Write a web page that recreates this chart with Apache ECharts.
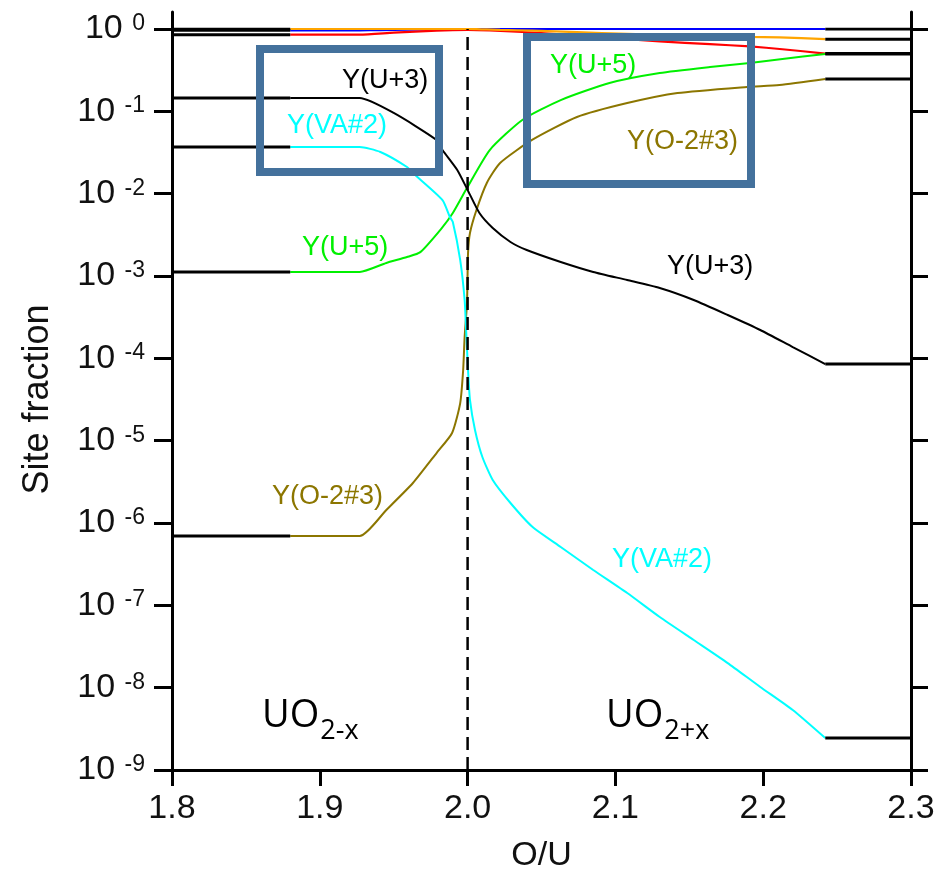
<!DOCTYPE html>
<html>
<head>
<meta charset="utf-8">
<title>Site fraction - O/U</title>
<script src="https://cdn.jsdelivr.net/npm/echarts@6.0.0/dist/echarts.min.js"></script>
<style>
html, body { margin: 0; padding: 0; background: #fff; }
#main { width: 949px; height: 879px; }
</style>
</head>
<body>
<div id="main"></div>
<script>
//两相区（左侧 UO2-x 边界外）水平线
var leftPhaseX = [1.8, 1.88];
var leftPhaseValues = [1.0, 0.963, 0.854, 0.145, 0.0369, 1.12e-3, 6.95e-7];
//两相区（右侧 UO2+x 边界外）水平线
var rightPhaseX = [2.242, 2.3];
var rightPhaseValues = [1.0, 0.753, 0.503, 0.497, 0.247, 8.53e-5, 2.44e-9];

//Y(U+3)
var u3X = [1.88, 1.927, 1.950, 1.979, 1.983, 1.993, 2.000, 2.008, 2.017, 2.029, 2.040, 2.063, 2.085, 2.108, 2.130, 2.153, 2.176, 2.198, 2.220, 2.242];
var u3Y = [0.145, 0.145, 0.0955, 0.0449, 0.0339, 0.0194, 0.0111, 5.82e-3, 3.83e-3, 2.59e-3, 2.07e-3, 1.48e-3, 1.12e-3, 8.93e-4, 7.14e-4, 5.11e-4, 3.36e-4, 2.21e-4, 1.37e-4, 8.53e-5];

//Y(VA#2)
var va2X = [1.88, 1.927, 1.941, 1.959, 1.963, 1.983, 1.988, 1.990, 1.995, 1.998, 1.999, 2.0003, 2.0016, 2.005, 2.010, 2.017, 2.029, 2.044, 2.063, 2.085, 2.108, 2.130, 2.153, 2.176, 2.198, 2.220, 2.242];
var va2Y = [0.0369, 0.0369, 0.0321, 0.0211, 0.0178, 8.37e-3, 5.21e-3, 4.53e-3, 1.56e-3, 5.11e-4, 2.21e-4, 7.21e-5, 3.12e-5, 1.35e-5, 6.33e-6, 3.33e-6, 1.75e-6, 8.93e-7, 5.11e-7, 2.69e-7, 1.41e-7, 7.21e-8, 3.79e-8, 1.99e-8, 1.02e-8, 5.35e-9, 2.44e-9];

//Y(U+5)
var u5X = [1.88, 1.927, 1.945, 1.959, 1.968, 1.982, 1.990, 2.000, 2.015, 2.037, 2.063, 2.096, 2.130, 2.164, 2.191, 2.213, 2.242];
var u5Y = [1.12e-3, 1.12e-3, 1.44e-3, 1.70e-3, 1.95e-3, 3.72e-3, 5.82e-3, 0.0121, 0.0339, 0.0785, 0.137, 0.221, 0.292, 0.345, 0.386, 0.432, 0.497];

//Y(O-2#3)
var o3X = [1.88, 1.927, 1.945, 1.963, 1.979, 1.9895, 1.995, 1.997, 1.998, 1.9996, 2.0003, 2.0016, 2.006, 2.013, 2.022, 2.0436, 2.074, 2.108, 2.142, 2.189, 2.211, 2.242];
var o3Y = [6.95e-7, 6.95e-7, 1.44e-6, 3.06e-6, 7.08e-6, 1.24e-5, 2.86e-5, 7.21e-5, 1.82e-4, 4.70e-4, 1.90e-3, 3.33e-3, 6.34e-3, 0.0135, 0.0236, 0.0449, 0.0853, 0.126, 0.167, 0.198, 0.209, 0.247];

//Y(U+4)
var u4X = [1.88, 1.927, 1.950, 1.979, 1.990, 2.000, 2.015, 2.037, 2.063, 2.096, 2.130, 2.164, 2.191, 2.213, 2.242];
var u4Y = [0.854, 0.854, 0.903, 0.953, 0.970, 0.977, 0.962, 0.919, 0.862, 0.778, 0.707, 0.655, 0.614, 0.568, 0.503];

//Y(O-2)
var o2X = [1.88, 1.927, 1.941, 1.959, 1.983, 1.990, 2.000, 2.242];
var o2Y = [0.963, 0.963, 0.968, 0.979, 0.992, 0.995, 1.0, 1.0];

//Y(VA#3)
var va3X = [1.88, 2.000, 2.006, 2.013, 2.022, 2.044, 2.074, 2.108, 2.142, 2.189, 2.211, 2.242];
var va3Y = [1.0, 1.0, 0.994, 0.987, 0.976, 0.955, 0.915, 0.874, 0.833, 0.802, 0.791, 0.753];

//化学计量线 O/U = 2
var stoichX = [2.0, 2.0];
var stoichY = [1e-9, 1.0];

var FONT = '"Liberation Sans", Arial, sans-serif';
var OLIVE = '#8c7600';
var BOX = '#44719c';

var pairs = function(xs, ys) {
	var out = [];
	for(var i = 0; i < xs.length; i++) {
		out.push([xs[i], ys[i]]);
	}
	return out;
};

var curve = function(xs, ys, color, width, z, smooth) {
	return {
		type: 'line',
		data: pairs(xs, ys),
		symbol: 'none',
		silent: true,
		z: z || 3,
		smooth: smooth || false,
		lineStyle: {
			color: color,
			width: width
		}
	};
};

var series = [];
series.push(curve(o2X, o2Y, '#0000ff', 2.2, 3, 0.2));
series.push(curve(u4X, u4Y, '#ff0000', 2.2, 3, 0.2));
series.push(curve(va3X, va3Y, '#ffa500', 2.2, 3, 0.2));
series.push(curve(u5X, u5Y, '#00f000', 2, 3, 0.2));
series.push(curve(o3X, o3Y, OLIVE, 2, 3, 0.2));
series.push(curve(va2X, va2Y, '#00ffff', 2, 3, 0.2));
series.push(curve(u3X, u3Y, '#000000', 2, 3, 0.2));
leftPhaseValues.forEach(function(v) {
	series.push(curve(leftPhaseX, [v, v], '#000000', 3, 4));
});
rightPhaseValues.forEach(function(v) {
	series.push(curve(rightPhaseX, [v, v], '#000000', 3, 4));
});
var dash = curve(stoichX, stoichY, '#000000', 2.5, 5);
dash.lineStyle.type = [13, 7];
series.push(dash);

var label = function(text, x, y, color) {
	return {
		type: 'text',
		z: 110,
		style: {
			text: text,
			x: x,
			y: y,
			fill: color,
			font: '27px ' + FONT,
			align: 'left',
			verticalAlign: 'middle'
		}
	};
};

var phaseLabel = function(main, sub, x, y) {
	return {
		type: 'text',
		z: 110,
		style: {
			text: '{m|' + main + '}{s|' + sub + '}',
			x: x,
			y: y,
			fill: '#000',
			align: 'left',
			verticalAlign: 'middle',
			rich: {
				m: {
					font: '38px "Open Sans", sans-serif',
					fill: '#000'
				},
				s: {
					font: '27px "Open Sans", sans-serif',
					fill: '#000',
					padding: [30, 0, 0, 1]
				}
			}
		}
	};
};

var axisLineStyle = {
	color: '#000',
	width: 3
};

var chart = echarts.init(document.getElementById('main'));
chart.setOption({
	animation: false,
	backgroundColor: '#fff',
	textStyle: {
		fontFamily: FONT
	},
	grid: [{
		left: 172,
		right: 38,
		top: 29,
		bottom: 109
	}, {
		left: 172,
		right: 38,
		top: 12,
		bottom: 109
	}],
	xAxis: [{
		gridIndex: 0,
		type: 'value',
		position: 'bottom',
		min: 1.8,
		max: 2.3,
		interval: 0.1,
		name: 'O/U',
		nameLocation: 'middle',
		nameGap: 69,
		nameTextStyle: {
			fontSize: 34,
			color: '#111',
			fontFamily: FONT
		},
		axisLine: {
			lineStyle: axisLineStyle
		},
		axisTick: {
			inside: false,
			length: 16,
			lineStyle: axisLineStyle
		},
		axisLabel: {
			fontSize: 34,
			color: '#111',
			margin: 22,
			fontFamily: FONT,
			formatter: function(v) {
				return v.toFixed(1);
			}
		},
		splitLine: {
			show: false
		}
	}, {
		gridIndex: 1,
		type: 'value',
		position: 'top',
		min: 1.8,
		max: 2.3,
		interval: 0.1,
		axisLine: {
			show: false
		},
		axisTick: {
			inside: true,
			length: 15,
			lineStyle: axisLineStyle
		},
		axisLabel: {
			show: false
		},
		splitLine: {
			show: false
		}
	}],
	yAxis: [{
		gridIndex: 0,
		type: 'log',
		logBase: 10,
		position: 'left',
		min: 1e-9,
		max: 1,
		name: 'Site fraction',
		nameLocation: 'middle',
		nameRotate: 90,
		nameGap: 116,
		nameTextStyle: {
			fontSize: 36,
			color: '#111',
			fontFamily: FONT
		},
		axisLine: {
			lineStyle: axisLineStyle
		},
		axisTick: {
			inside: false,
			length: 18,
			lineStyle: axisLineStyle
		},
		axisLabel: {
			margin: 27,
			formatter: function(v) {
				var e = Math.round(Math.log(v) / Math.LN10);
				return '{b|10 }{s|' + e + '}';
			},
			rich: {
				b: {
					fontSize: 34,
					color: '#111',
					fontFamily: FONT
				},
				s: {
					fontSize: 23,
					color: '#111',
					fontFamily: FONT,
					verticalAlign: 'top'
				}
			}
		},
		splitLine: {
			show: false
		}
	}, {
		gridIndex: 0,
		type: 'log',
		logBase: 10,
		position: 'right',
		min: 1e-9,
		max: 1,
		axisLine: {
			lineStyle: axisLineStyle
		},
		axisTick: {
			inside: false,
			length: 17,
			lineStyle: axisLineStyle
		},
		axisLabel: {
			show: false
		},
		splitLine: {
			show: false
		}
	}, {
		gridIndex: 1,
		type: 'value',
		position: 'left',
		min: 0,
		max: 1,
		axisLine: {
			show: true,
			lineStyle: axisLineStyle
		},
		axisTick: {
			show: false
		},
		axisLabel: {
			show: false
		},
		splitLine: {
			show: false
		}
	}, {
		gridIndex: 1,
		type: 'value',
		position: 'right',
		min: 0,
		max: 1,
		axisLine: {
			show: true,
			lineStyle: axisLineStyle
		},
		axisTick: {
			show: false
		},
		axisLabel: {
			show: false
		},
		splitLine: {
			show: false
		}
	}],
	graphic: [{
		type: 'rect',
		z: 100,
		shape: { x: 260, y: 49, width: 179, height: 123 },
		style: { fill: 'none', stroke: BOX, lineWidth: 8 }
	}, {
		type: 'rect',
		z: 100,
		shape: { x: 527, y: 37, width: 224, height: 147 },
		style: { fill: 'none', stroke: BOX, lineWidth: 8 }
	},
		label('Y(U+3)', 342, 81, '#000'),
		label('Y(VA#2)', 287, 126, '#00ffff'),
		label('Y(U+5)', 550, 66, '#00f000'),
		label('Y(O-2#3)', 627, 142, OLIVE),
		label('Y(U+5)', 302, 248, '#00f000'),
		label('Y(O-2#3)', 272, 497, OLIVE),
		label('Y(U+3)', 667, 267, '#000'),
		label('Y(VA#2)', 612, 560, '#00ffff'),
		phaseLabel('UO', '2-x', 262, 716),
		phaseLabel('UO', '2+x', 606, 716)
	],
	series: series
});
</script>
</body>
</html>
